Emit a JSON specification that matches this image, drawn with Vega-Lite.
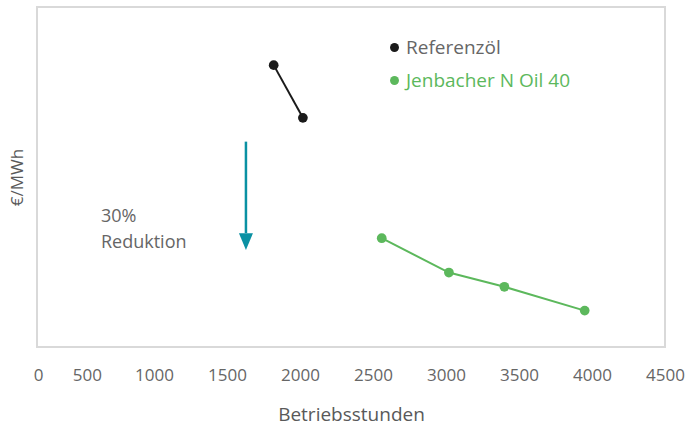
{
  "$schema": "https://vega.github.io/schema/vega-lite/v6.json",
  "width": 628,
  "height": 340,
  "autosize": "none",
  "padding": {"left": 37, "top": 7, "right": 26, "bottom": 83},
  "background": "white",
  "config": {
    "font": "Open Sans",
    "view": {"stroke": "#d9d9d9", "strokeWidth": 2},
    "axis": {"grid": false, "ticks": false, "domain": false, "labelColor": "#666666", "titleColor": "#595959", "titleFontWeight": "normal"},
    "legend": {"title": null, "orient": "none", "legendX": 348, "legendY": 31, "padding": 0,
      "symbolType": "circle", "symbolSize": 80, "symbolStrokeWidth": 0, "labelFontSize": 19, "labelOffset": 2,
      "rowPadding": 13, "labelLimit": 300,
      "labelColor": {"expr": "datum.label == 'Referenzöl' ? '#666666' : '#5cb85c'"}}
  },
  "datasets": {
    "series": [
      {"series": "Referenzöl", "hours": 1820, "cost": 82.9},
      {"series": "Referenzöl", "hours": 2020, "cost": 67.4},
      {"series": "Jenbacher N Oil 40", "hours": 2560, "cost": 32.0},
      {"series": "Jenbacher N Oil 40", "hours": 3020, "cost": 21.9},
      {"series": "Jenbacher N Oil 40", "hours": 3400, "cost": 17.7},
      {"series": "Jenbacher N Oil 40", "hours": 3950, "cost": 10.7}
    ]
  },
  "layer": [
    {
      "data": {"name": "series"},
      "mark": {"type": "line", "strokeWidth": 2},
      "encoding": {
        "x": {"field": "hours", "type": "quantitative",
          "scale": {"domain": [199, 4500], "nice": false, "zero": false},
          "axis": {"title": "Betriebsstunden", "values": [206, 541, 1000, 1500, 2000, 2500, 3000, 3500, 4000, 4500], "format": "d",
            "labelExpr": "datum.value < 300 ? '0' : datum.value < 700 ? '500' : datum.label",
            "labelFlush": false, "labelOverlap": false, "labelBound": false,
            "labelFontSize": 17, "labelPadding": 20, "titleFontSize": 19, "titlePadding": 22}},
        "y": {"field": "cost", "type": "quantitative",
          "scale": {"domain": [0, 100], "nice": false},
          "axis": {"title": "€/MWh", "labels": false, "titleFontSize": 17, "titlePadding": 11}},
        "color": {"field": "series", "type": "nominal",
          "scale": {"domain": ["Referenzöl", "Jenbacher N Oil 40"], "range": ["#1a1a1a", "#5cb85c"]}}
      }
    },
    {
      "data": {"name": "series"},
      "mark": {"type": "point", "filled": true, "size": 95, "opacity": 1},
      "encoding": {
        "x": {"field": "hours", "type": "quantitative"},
        "y": {"field": "cost", "type": "quantitative"},
        "color": {"field": "series", "type": "nominal"}
      }
    },
    {
      "data": {"values": [{"hours": 1630, "top": 60.4, "bottom": 33.5}]},
      "mark": {"type": "rule", "color": "#0a91a3", "strokeWidth": 2.5},
      "encoding": {
        "x": {"field": "hours", "type": "quantitative"},
        "y": {"field": "top", "type": "quantitative"},
        "y2": {"field": "bottom"}
      }
    },
    {
      "data": {"values": [{"hours": 1630, "tip": 31.0}]},
      "mark": {"type": "point", "shape": "M-1,-1.2L1,-1.2L0,1.2Z", "filled": true, "size": 196, "color": "#0a91a3", "opacity": 1},
      "encoding": {
        "x": {"field": "hours", "type": "quantitative"},
        "y": {"field": "tip", "type": "quantitative"}
      }
    },
    {
      "data": {"values": [{"hours": 637, "pos": 36.9, "label": "30%"}, {"hours": 637, "pos": 29.1, "label": "Reduktion"}]},
      "mark": {"type": "text", "align": "left", "baseline": "alphabetic", "fontSize": 18, "color": "#666666"},
      "encoding": {
        "x": {"field": "hours", "type": "quantitative"},
        "y": {"field": "pos", "type": "quantitative"},
        "text": {"field": "label"}
      }
    }
  ]
}
